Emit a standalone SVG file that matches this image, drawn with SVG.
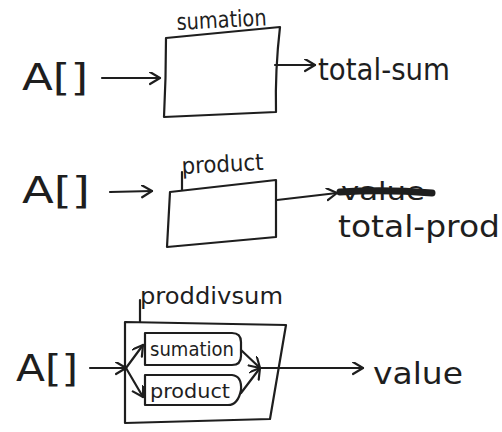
<svg xmlns="http://www.w3.org/2000/svg" width="502" height="432" viewBox="0 0 502 432">
  <style>
    .ink { fill: none; stroke: #1e1e1e; stroke-width: 2.2; stroke-linecap: round; stroke-linejoin: round; }
    .lbl { font-family: "DejaVu Sans", "Liberation Sans", sans-serif; fill: #1e1e1e; }
    .big { font-size: 38px; }
    .mid { font-size: 31px; }
    .sm { font-size: 23px; }
    .xs { font-size: 20px; }
  </style>
  <defs>
    <marker id="open" markerWidth="14" markerHeight="14" refX="11" refY="6" orient="auto" markerUnits="userSpaceOnUse">
      <path d="M1,0 L11,6 L1,12" fill="none" stroke="#1e1e1e" stroke-width="2.2" stroke-linecap="round" stroke-linejoin="round"/>
    </marker>
  </defs>
  <rect width="502" height="432" fill="#ffffff"/>

  <!-- summation block -->
  <g id="in1"><text class="lbl big" x="22" y="90" textLength="66" lengthAdjust="spacingAndGlyphs">A[]</text></g>
  <g id="sumation">
    <path class="ink" d="M166,38 L280,27 Q275,70 276,112 L164,117 Q166,78 166,38 Z"/>
    <text class="lbl sm" x="177" y="30" textLength="90" lengthAdjust="spacingAndGlyphs" transform="rotate(-3 177 30)">sumation</text>
  </g>
  <g id="out1"><text class="lbl mid" x="318" y="80" textLength="132" lengthAdjust="spacingAndGlyphs">total-sum</text></g>

  <!-- product block -->
  <g id="in2"><text class="lbl big" x="22" y="203" textLength="68" lengthAdjust="spacingAndGlyphs">A[]</text></g>
  <g id="product">
    <path class="ink" d="M170,192 L276,180 L276,237 L167,247 Z"/>
    <path class="ink" d="M182,190 L182,172"/>
    <text class="lbl sm" x="182" y="174" textLength="82" lengthAdjust="spacingAndGlyphs" transform="rotate(-3 182 174)">product</text>
  </g>
  <g id="out2">
    <text class="lbl" x="341" y="200" font-size="24" textLength="84" lengthAdjust="spacingAndGlyphs">value</text>
    <path d="M340,192 Q385,189 432,193" fill="none" stroke="#1e1e1e" stroke-width="7" stroke-linecap="round"/>
    <text class="lbl mid" x="338" y="237" textLength="162" lengthAdjust="spacingAndGlyphs">total-prod</text>
  </g>

  <!-- proddivsum block -->
  <g id="in3"><text class="lbl big" x="16" y="381" textLength="62" lengthAdjust="spacingAndGlyphs">A[]</text></g>
  <g id="proddivsum">
    <path class="ink" d="M125,322 L286,325 L270,419 L125,423 Z"/>
    <path class="ink" d="M140,322 L140,300"/>
    <text class="lbl sm" x="140" y="304" textLength="143" lengthAdjust="spacingAndGlyphs">proddivsum</text>
  </g>
  <g id="inner-sumation">
    <path class="ink" d="M145,333 L232,333 Q241,333 241,342 L241,356 Q241,365 232,365 L145,365 Z"/>
    <text class="lbl xs" x="150" y="356" textLength="84" lengthAdjust="spacingAndGlyphs">sumation</text>
  </g>
  <g id="inner-product">
    <path class="ink" d="M145,375 L232,375 Q242,376 241,390 Q238,405 228,405 L145,405 Z"/>
    <text class="lbl xs" x="150" y="398" textLength="80" lengthAdjust="spacingAndGlyphs">product</text>
  </g>
  <g id="out3"><text class="lbl mid" x="373" y="384" textLength="90" lengthAdjust="spacingAndGlyphs">value</text></g>

  <!-- connectors -->
  <g id="connectors">
    <path class="ink" d="M102,78 L160,78" marker-end="url(#open)"/>
    <path class="ink" d="M275,65 L315,65" marker-end="url(#open)"/>
    <path class="ink" d="M110,192 L152,191" marker-end="url(#open)"/>
    <path class="ink" d="M277,200 L337,193" marker-end="url(#open)"/>
    <path class="ink" d="M90,368 L126,368" marker-end="url(#open)"/>
    <path class="ink" d="M126,368 L143,345" marker-end="url(#open)"/>
    <path class="ink" d="M126,368 L143,397" marker-end="url(#open)"/>
    <path class="ink" d="M241,350 L260,368" marker-end="url(#open)"/>
    <path class="ink" d="M241,393 L260,368" marker-end="url(#open)"/>
    <path class="ink" d="M260,368 L363,368" marker-end="url(#open)"/>
  </g>
</svg>
